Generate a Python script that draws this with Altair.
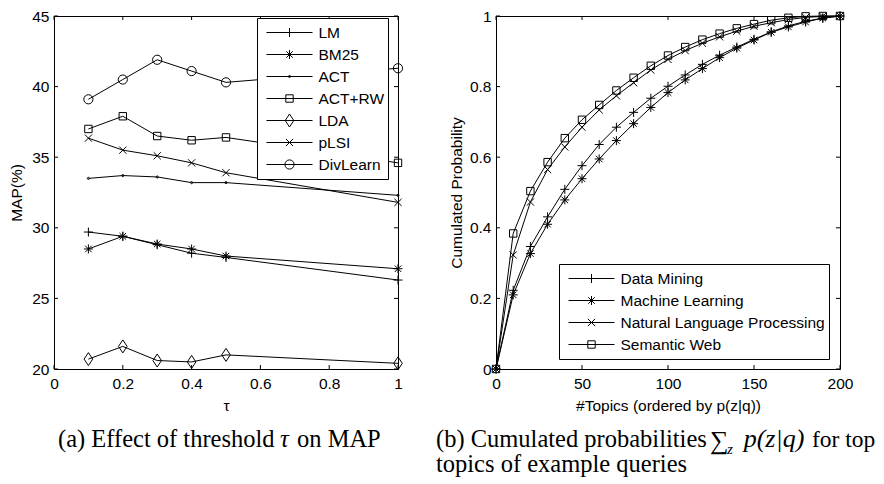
import altair as alt
import pandas as pd

# ---------------- data ----------------
TAU = [0.1, 0.2, 0.3, 0.4, 0.5, 1.0]
LEFT_SERIES = ["LM", "BM25", "ACT", "ACT+RW", "LDA", "pLSI", "DivLearn"]
LM = [29.7, 29.4, 28.8, 28.2, 27.9, 26.3]
BM25 = [28.5, 29.4, 28.85, 28.5, 28.0, 27.1]
ACT = [33.5, 33.7, 33.6, 33.2, 33.2, 32.3]
ACT_RW = [37.0, 37.9, 36.5, 36.2, 36.4, 34.6]
LDA = [20.7, 21.6, 20.6, 20.5, 21.0, 20.4]
PLSI = [36.35, 35.5, 35.1, 34.6, 33.9, 31.8]
DIVLEARN = [39.1, 40.5, 41.9, 41.1, 40.3, 41.3]
LEFT_VALUES = [LM, BM25, ACT, ACT_RW, LDA, PLSI, DIVLEARN]
LEFT_KINDS = ["plus", "star", "dot", "square", "diamond", "x", "circle"]

TOPICS = [0, 10, 20, 30, 40, 50, 60, 70, 80, 90, 100,
          110, 120, 130, 140, 150, 160, 170, 180, 190, 200]
RIGHT_SERIES = ["Data Mining", "Machine Learning",
                "Natural Language Processing", "Semantic Web"]
DM = [0, 0.223, 0.347, 0.431, 0.509, 0.576, 0.636, 0.685, 0.727, 0.767, 0.801,
      0.833, 0.863, 0.889, 0.912, 0.934, 0.955, 0.972, 0.985, 0.994, 1.0]
ML = [0, 0.210, 0.327, 0.410, 0.479, 0.539, 0.595, 0.647, 0.695, 0.741, 0.783,
      0.819, 0.851, 0.882, 0.909, 0.932, 0.954, 0.969, 0.983, 0.994, 1.0]
NLP = [0, 0.323, 0.473, 0.565, 0.629, 0.685, 0.734, 0.774, 0.811, 0.847, 0.877,
       0.902, 0.923, 0.941, 0.957, 0.971, 0.981, 0.990, 0.996, 0.999, 1.0]
SW = [0, 0.384, 0.504, 0.586, 0.654, 0.706, 0.748, 0.789, 0.825, 0.859, 0.888,
      0.912, 0.933, 0.950, 0.965, 0.977, 0.988, 0.995, 0.999, 1.0, 1.0]
RIGHT_VALUES = [DM, ML, NLP, SW]
RIGHT_KINDS = ["plus", "star", "x", "square"]

LEFT_XTICKS = [0, 0.2, 0.4, 0.6, 0.8, 1]
LEFT_YTICKS = [20, 25, 30, 35, 40, 45]
RIGHT_XTICKS = [0, 50, 100, 150, 200]
RIGHT_YTICKS = [0, 0.2, 0.4, 0.6, 0.8, 1]

# ---------------- styling ----------------
W, H = 344, 353
FONT = "Liberation Sans"
SERIF = "Liberation Serif"
FS = 15.5
CAP = 24.5
LEG_SIZE = 3249          # sqrt = 57 px
LEG_SCALE = 28.5         # sqrt(size) / 2


def n(v):
    return f"{v:.4f}".rstrip("0").rstrip(".")


def marker(kind, s):
    if kind == "plus":
        h = 4.5 / s
        return f"M{n(-h)},0H{n(h)}M0,{n(-h)}V{n(h)}"
    if kind == "star":
        h = 4.5 / s
        d = h * 0.72
        return (f"M{n(-h)},0H{n(h)}M0,{n(-h)}V{n(h)}"
                f"M{n(-d)},{n(-d)}L{n(d)},{n(d)}M{n(-d)},{n(d)}L{n(d)},{n(-d)}")
    if kind == "x":
        h = 3.6 / s
        return f"M{n(-h)},{n(-h)}L{n(h)},{n(h)}M{n(-h)},{n(h)}L{n(h)},{n(-h)}"
    if kind == "square":
        h = 3.7 / s
        return f"M{n(-h)},{n(-h)}H{n(h)}V{n(h)}H{n(-h)}Z"
    if kind == "diamond":
        w, hh = 4.3 / s, 6.5 / s
        return f"M0,{n(-hh)}L{n(w)},0L0,{n(hh)}L{n(-w)},0Z"
    r = (4.6 if kind == "circle" else 1.1) / s
    return f"M{n(r)},0A{n(r)},{n(r)} 0 1,1 {n(-r)},0A{n(r)},{n(r)} 0 1,1 {n(r)},0Z"


def legend_marker(kind):
    s = LEG_SCALE
    return f"M{n(-23 / s)},0H{n(23 / s)}" + marker(kind, s)


def caption_layer(pieces):
    layers = []
    for txt, x, y, size, style, align in pieces:
        layers.append(
            alt.Chart(pd.DataFrame({"a": [0]})).mark_text(
                text=txt, font=SERIF, fontSize=size, fontStyle=style,
                align=align, baseline="alphabetic", color="black"
            ).encode(x=alt.value(x), y=alt.value(y))
        )
    return layers


def panel(xs, series, values, kinds, xf, yf, xdom, ydom, xt, yt,
          xtitle, ytitle, ytitle_x, lx, ly, captions):
    rows = []
    for name, vals in zip(series, values):
        for xv, yv in zip(xs, vals):
            rows.append({xf: xv, yf: yv, "series": name})
    df = pd.DataFrame(rows)

    xenc = alt.X(f"{xf}:Q",
                 scale=alt.Scale(domain=xdom, nice=False, zero=False),
                 axis=alt.Axis(values=xt, format="~r", title=xtitle,
                               labelPadding=7, labelFlush=False,
                               titleY=36, titleBaseline="middle"))
    yenc = alt.Y(f"{yf}:Q",
                 scale=alt.Scale(domain=ydom, nice=False, zero=False),
                 axis=alt.Axis(values=yt, format="~r", title=ytitle,
                               labelPadding=5, titleX=ytitle_x, titleY=H / 2,
                               titleBaseline="middle", titleAlign="center",
                               titleAngle=270))

    lines = alt.Chart(df).mark_line(color="black", strokeWidth=1).encode(
        x=xenc, y=yenc, detail="series:N")

    pts = alt.Chart(df).mark_point(
        filled=False, color="black", strokeWidth=1, opacity=1, size=100
    ).encode(
        x=f"{xf}:Q", y=f"{yf}:Q",
        shape=alt.Shape("series:N",
                        scale=alt.Scale(domain=series,
                                        range=[marker(k, 5.0) for k in kinds]),
                        legend=None))

    leg = alt.Chart(df).transform_filter("false").mark_point(
        filled=False, color="black", strokeWidth=1, opacity=1
    ).encode(
        x=f"{xf}:Q", y=f"{yf}:Q",
        shape=alt.Shape("series:N",
                        scale=alt.Scale(domain=series,
                                        range=[legend_marker(k) for k in kinds]),
                        legend=alt.Legend(
                            orient="none", legendX=lx, legendY=ly, title=None,
                            padding=3.5, strokeColor="black", fillColor="white",
                            clipHeight=22, rowPadding=0, symbolSize=LEG_SIZE,
                            symbolStrokeWidth=1, symbolStrokeColor="black",
                            symbolFillColor="transparent", labelFont=FONT,
                            labelFontSize=FS, labelColor="black",
                            labelOffset=0, labelLimit=400,
                            cornerRadius=0)))

    xt_df = pd.DataFrame({xf: xt})
    yt_df = pd.DataFrame({yf: yt})
    tk = dict(color="black", strokeWidth=1)
    ticks = [
        alt.Chart(xt_df).mark_rule(**tk).encode(
            x=f"{xf}:Q", y=alt.value(H), y2=alt.value(H - 4)),
        alt.Chart(xt_df).mark_rule(**tk).encode(
            x=f"{xf}:Q", y=alt.value(0), y2=alt.value(4)),
        alt.Chart(yt_df).mark_rule(**tk).encode(
            y=f"{yf}:Q", x=alt.value(0), x2=alt.value(4)),
        alt.Chart(yt_df).mark_rule(**tk).encode(
            y=f"{yf}:Q", x=alt.value(W), x2=alt.value(W - 4)),
    ]

    return alt.layer(lines, pts, leg, *ticks, *caption_layer(captions)).resolve_scale(
        shape="independent").properties(width=W, height=H)


left_caps = [
    ("(a) Effect of threshold", 4, 431, CAP, "normal", "left"),
    ("τ", 226, 431, CAP, "italic", "left"),
    ("on MAP", 243, 431, CAP, "normal", "left"),
]
right_caps = [
    ("(b) Cumulated probabilities", -60, 431, CAP, "normal", "left"),
    ("∑", 214, 433, 26, "normal", "left"),
    ("z", 231, 438, 15, "italic", "left"),
    ("p(z|q)", 278, 431, 26, "italic", "center"),
    ("for top", 316, 431, 23.5, "normal", "left"),
    ("topics of example queries", -60, 456, CAP, "normal", "left"),
]

left = panel(TAU, LEFT_SERIES, LEFT_VALUES, LEFT_KINDS, "tau", "MAP",
             [0, 1], [20, 45], LEFT_XTICKS, LEFT_YTICKS,
             "τ", "MAP(%)", -38, 203, 2, left_caps)
right = panel(TOPICS, RIGHT_SERIES, RIGHT_VALUES, RIGHT_KINDS, "topics", "prob",
              [0, 200], [0, 1], RIGHT_XTICKS, RIGHT_YTICKS,
              "#Topics (ordered by p(z|q))", "Cumulated Probability", -40,
              63, 248, right_caps)

chart = alt.hconcat(left, right, spacing=98, bounds="flush").properties(
    padding={"left": 0, "top": 0, "right": 0, "bottom": 0}
).configure_view(
    stroke="black", strokeWidth=1
).configure_axis(
    labelFont=FONT, labelFontSize=FS, labelColor="black",
    titleFont=FONT, titleFontSize=FS, titleColor="black",
    titleFontWeight="normal", ticks=False, tickSize=0, domain=False, grid=False
)

chart.save("out.html", embed_options={"renderer": "svg", "actions": False})
